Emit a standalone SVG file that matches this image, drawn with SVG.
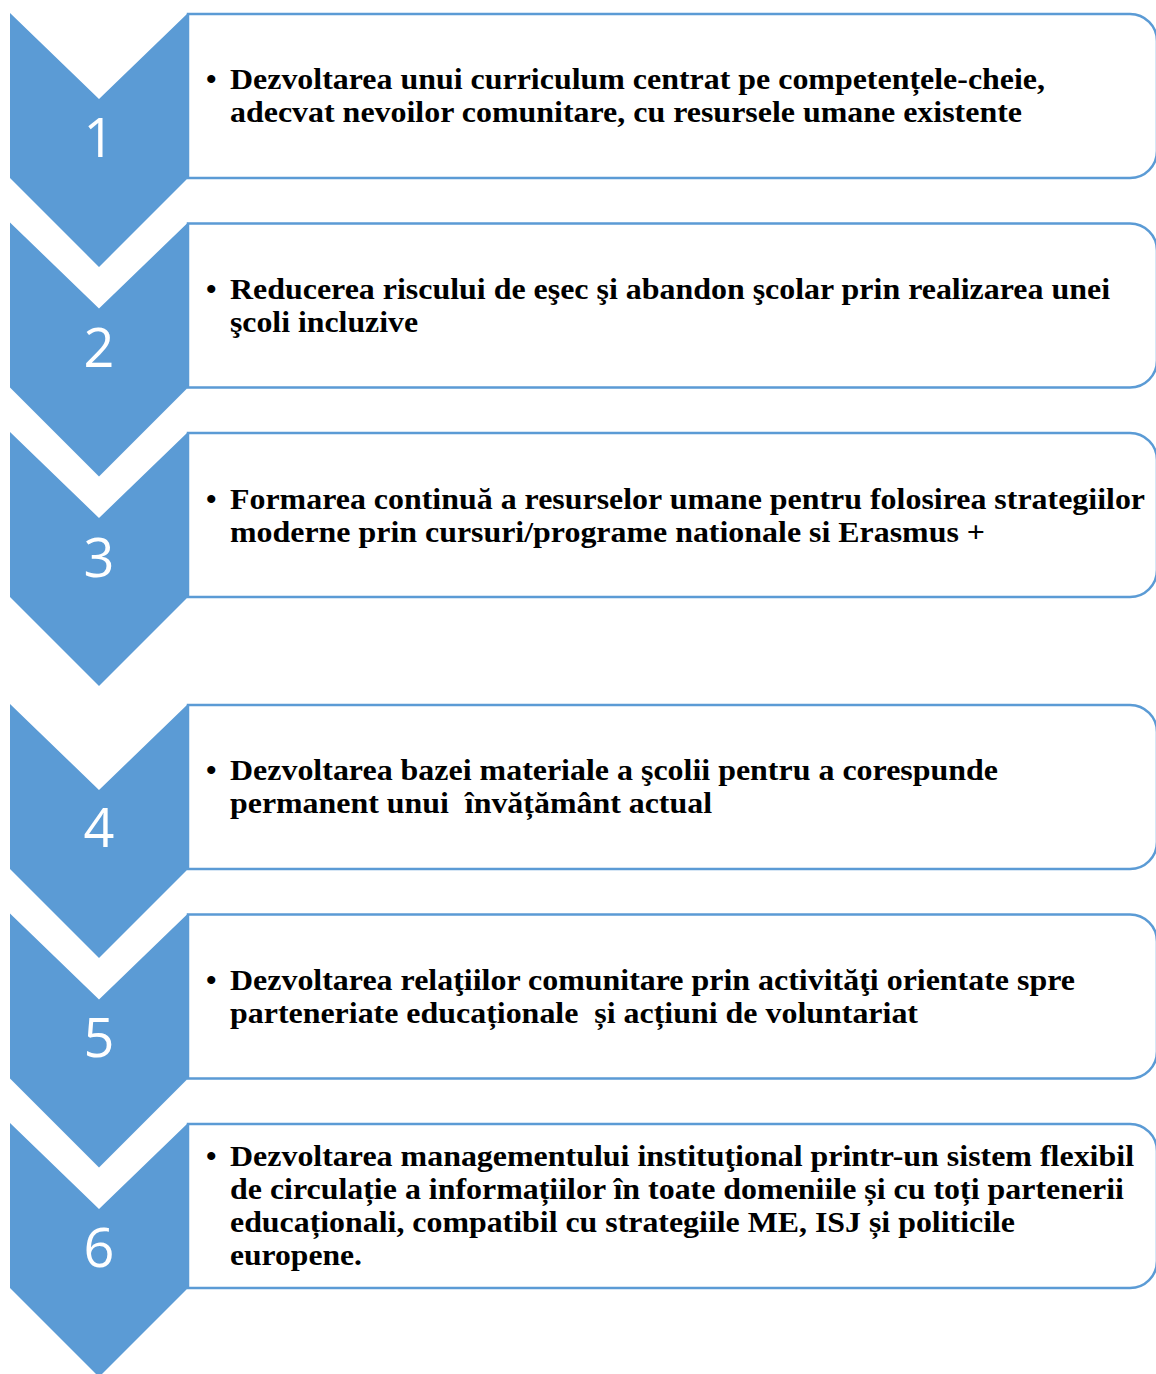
<svg xmlns="http://www.w3.org/2000/svg" width="1156" height="1374" viewBox="0 0 1156 1374">
<defs>
<style>
.box{fill:#ffffff;stroke:#5B9BD5;stroke-width:2.5}
.chev{fill:#5B9BD5;stroke:none}
.num{font-family:"Open Sans","Noto Sans","DejaVu Sans",sans-serif;font-size:54px;fill:#ffffff;text-anchor:middle}
.txt{font-family:"Liberation Serif","Times New Roman",serif;font-weight:bold;font-size:30px;fill:#000000;white-space:pre}
</style>
</defs>
<rect x="0" y="0" width="1156" height="1374" fill="#ffffff"/>
<g id="connectors"></g>
<g id="step1">
<path class="box" d="M188,14 H1130 A27,27 0 0 1 1157,41 V151 A27,27 0 0 1 1130,178 H188 Z"/>
<path class="chev" d="M10,13 L99,99 L188,13 V178 L99,267 L10,178 Z"/>
<text class="num" x="99" y="157">1</text>
<text class="txt" x="206" y="89">•</text>
<text class="txt" x="230" y="89" textLength="815" lengthAdjust="spacingAndGlyphs">Dezvoltarea unui curriculum centrat pe competențele-cheie,</text>
<text class="txt" x="230" y="122" textLength="792" lengthAdjust="spacingAndGlyphs">adecvat nevoilor comunitare, cu resursele umane existente</text>
</g>
<g id="step2">
<path class="box" d="M188,223.5 H1130 A27,27 0 0 1 1157,250.5 V360.5 A27,27 0 0 1 1130,387.5 H188 Z"/>
<path class="chev" d="M10,222.5 L99,308.5 L188,222.5 V387.5 L99,476.5 L10,387.5 Z"/>
<text class="num" x="99" y="367">2</text>
<text class="txt" x="206" y="299">•</text>
<text class="txt" x="230" y="299" textLength="880" lengthAdjust="spacingAndGlyphs">Reducerea riscului de eşec şi abandon şcolar prin realizarea unei</text>
<text class="txt" x="230" y="332" textLength="188" lengthAdjust="spacingAndGlyphs">şcoli incluzive</text>
</g>
<g id="step3">
<path class="box" d="M188,433 H1130 A27,27 0 0 1 1157,460 V570 A27,27 0 0 1 1130,597 H188 Z"/>
<path class="chev" d="M10,432 L99,518 L188,432 V597 L99,686 L10,597 Z"/>
<text class="num" x="99" y="577">3</text>
<text class="txt" x="206" y="509">•</text>
<text class="txt" x="230" y="509" textLength="915" lengthAdjust="spacingAndGlyphs">Formarea continuă a resurselor umane pentru folosirea strategiilor</text>
<text class="txt" x="230" y="542" textLength="755" lengthAdjust="spacingAndGlyphs">moderne prin cursuri/programe nationale si Erasmus +</text>
</g>
<g id="step4">
<path class="box" d="M188,705 H1130 A27,27 0 0 1 1157,732 V842 A27,27 0 0 1 1130,869 H188 Z"/>
<path class="chev" d="M10,704 L99,790 L188,704 V869 L99,958 L10,869 Z"/>
<text class="num" x="99" y="847">4</text>
<text class="txt" x="206" y="780">•</text>
<text class="txt" x="230" y="780" textLength="768" lengthAdjust="spacingAndGlyphs">Dezvoltarea bazei materiale a şcolii pentru a corespunde</text>
<text class="txt" x="230" y="813" textLength="482" lengthAdjust="spacingAndGlyphs">permanent unui  învățământ actual</text>
</g>
<g id="step5">
<path class="box" d="M188,914.5 H1130 A27,27 0 0 1 1157,941.5 V1051.5 A27,27 0 0 1 1130,1078.5 H188 Z"/>
<path class="chev" d="M10,913.5 L99,999.5 L188,913.5 V1078.5 L99,1167.5 L10,1078.5 Z"/>
<text class="num" x="99" y="1057">5</text>
<text class="txt" x="206" y="990">•</text>
<text class="txt" x="230" y="990" textLength="845" lengthAdjust="spacingAndGlyphs">Dezvoltarea relaţiilor comunitare prin activităţi orientate spre</text>
<text class="txt" x="230" y="1023" textLength="688" lengthAdjust="spacingAndGlyphs">parteneriate educaționale  și acțiuni de voluntariat</text>
</g>
<g id="step6">
<path class="box" d="M188,1124 H1130 A27,27 0 0 1 1157,1151 V1261 A27,27 0 0 1 1130,1288 H188 Z"/>
<path class="chev" d="M10,1123 L99,1209 L188,1123 V1288 L99,1377 L10,1288 Z"/>
<text class="num" x="99" y="1267">6</text>
<text class="txt" x="206" y="1166">•</text>
<text class="txt" x="230" y="1166" textLength="904" lengthAdjust="spacingAndGlyphs">Dezvoltarea managementului instituţional printr-un sistem flexibil</text>
<text class="txt" x="230" y="1199" textLength="894" lengthAdjust="spacingAndGlyphs">de circulație a informațiilor în toate domeniile și cu toți partenerii</text>
<text class="txt" x="230" y="1232" textLength="785" lengthAdjust="spacingAndGlyphs">educaționali, compatibil cu strategiile ME, ISJ și politicile</text>
<text class="txt" x="230" y="1265" textLength="132" lengthAdjust="spacingAndGlyphs">europene.</text>
</g>
</svg>
